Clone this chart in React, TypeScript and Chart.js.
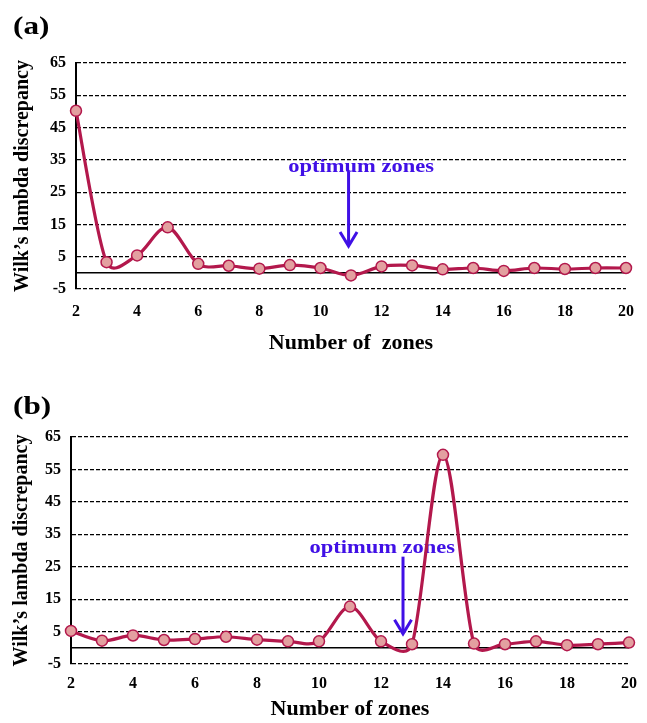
import React, { useEffect, useRef } from "react";
import { Chart, registerables } from "chart.js";

Chart.register(...registerables);

// ---------- data ----------
const zones = [2, 3, 4, 5, 6, 7, 8, 9, 10, 11, 12, 13, 14, 15, 16, 17, 18, 19, 20];
const xTickValues = [2, 4, 6, 8, 10, 12, 14, 16, 18, 20];
const yTickValues = [-5, 5, 15, 25, 35, 45, 55, 65];
const discrepancyA = [50.2, 3.3, 5.4, 14.1, 2.8, 2.2, 1.3, 2.4, 1.5, -0.8, 2.0, 2.3, 1.1, 1.5, 0.6, 1.5, 1.2, 1.5, 1.5];
const discrepancyB = [5.2, 2.2, 3.8, 2.4, 2.7, 3.4, 2.5, 2.0, 2.0, 12.7, 2.0, 1.1, 59.5, 1.3, 1.1, 2.0, 0.8, 1.1, 1.6];
const zeroLineX = [2, 20];
const zeroLineY = [0, 0];
const panelLabels = ["(a)", "(b)"];
const xTitles = ["Number of  zones", "Number of zones"];
const yTitle = "Wilk\u2019s lambda discrepancy";
const annotationText = "optimum zones";
// annotation anchors in data units: [arrowX, arrowTopY, arrowTipY, textCenterX, textCenterY]
const optimumA = [10.92, 31.3, 8.0, 11.33, 32.8];
const optimumB = [12.71, 28.1, 4.0, 12.04, 30.8];

const SERIF = '"Liberation Serif", "Times New Roman", serif';
const LINE_COLOR = "#b3184c";
const POINT_FILL = "#e3a0a0";
const ANNOT_COLOR = "#4010e6";

type Layout = {
  height: number;
  padTop: number;
  padRight: number;
  yWidth: number;
  xHeight: number;
  tickPad: number;
  yTitlePad: number;
  xTitlePad: number;
};

// Spreadsheet-style smoothing: tangent (next - prev) / 6, each arm capped at half its segment
const smoothingPlugin = {
  id: "spreadsheetSmoothing",
  beforeDatasetDraw(chart: any, args: any) {
    if (args.index !== 0) return;
    const meta = args.meta;
    const line = meta.dataset;
    const pts = meta.data;
    if (line && typeof line.updateControlPoints === "function") {
      line.updateControlPoints(chart.chartArea, "x");
    }
    const n = pts.length;
    const f = 1 / 6;
    for (let i = 0; i < n; i++) {
      const p = pts[i];
      const prev = pts[Math.max(0, i - 1)];
      const next = pts[Math.min(n - 1, i + 1)];
      const tx = (next.x - prev.x) * f;
      const ty = (next.y - prev.y) * f;
      const len = Math.hypot(tx, ty);
      const dPrev = Math.hypot(p.x - prev.x, p.y - prev.y);
      const dNext = Math.hypot(next.x - p.x, next.y - p.y);
      const kIn = len > 0 ? Math.min(1, dPrev / 2 / len) : 0;
      const kOut = len > 0 ? Math.min(1, dNext / 2 / len) : 0;
      p.cp1x = p.x - tx * kIn;
      p.cp1y = p.y - ty * kIn;
      p.cp2x = p.x + tx * kOut;
      p.cp2y = p.y + ty * kOut;
    }
    if (line) line._path = undefined;
  },
};

function makeAnnotationPlugin(anchor: number[]) {
  return {
    id: "optimumAnnotation",
    beforeDatasetsDraw(chart: any) {
      const { ctx, scales } = chart;
      const xs = scales.x;
      const ys = scales.y;
      const ax = xs.getPixelForValue(anchor[0]);
      const aTop = ys.getPixelForValue(anchor[1]);
      const aTip = ys.getPixelForValue(anchor[2]);
      const tx = xs.getPixelForValue(anchor[3]);
      const ty = ys.getPixelForValue(anchor[4]);
      ctx.save();
      ctx.fillStyle = ANNOT_COLOR;
      ctx.font = `bold 18px ${SERIF}`;
      ctx.textAlign = "center";
      ctx.textBaseline = "middle";
      ctx.translate(tx, ty);
      ctx.scale(1.25, 1);
      ctx.fillText(annotationText, 0, 0);
      ctx.setTransform(1, 0, 0, 1, 0, 0);
      ctx.strokeStyle = ANNOT_COLOR;
      ctx.lineWidth = 3;
      ctx.beginPath();
      ctx.moveTo(ax, aTop);
      ctx.lineTo(ax, aTip - 2);
      ctx.stroke();
      ctx.beginPath();
      ctx.lineJoin = "miter";
      ctx.moveTo(ax - 8.5, aTip - 15);
      ctx.lineTo(ax, aTip - 1);
      ctx.lineTo(ax + 8.5, aTip - 15);
      ctx.stroke();
      ctx.restore();
    },
  };
}

function Panel({ values, xTitle, anchor, layout, top }: { values: number[]; xTitle: string; anchor: number[]; layout: Layout; top: number }) {
  const ref = useRef<HTMLCanvasElement>(null);
  useEffect(() => {
    if (!ref.current) return;
    const chart = new Chart(ref.current, {
      type: "line",
      data: {
        datasets: [
          {
            data: zones.map((z, i) => ({ x: z, y: values[i] })),
            borderColor: LINE_COLOR,
            borderWidth: 3.2,
            tension: 0.4,
            pointRadius: 5.5,
            pointBorderWidth: 1.5,
            pointBackgroundColor: POINT_FILL,
            pointBorderColor: LINE_COLOR,
            clip: false as any,
            order: 1,
          },
          {
            data: zeroLineX.map((x, i) => ({ x, y: zeroLineY[i] })),
            borderColor: "#000",
            borderWidth: 1.5,
            pointRadius: 0,
            tension: 0,
            order: 2,
          },
        ],
      },
      options: {
        animation: false,
        responsive: false,
        devicePixelRatio: 1,
        events: [],
        layout: { padding: { top: layout.padTop, right: layout.padRight, left: 0, bottom: 0 } },
        plugins: { legend: { display: false }, tooltip: { enabled: false } },
        scales: {
          x: {
            type: "linear",
            min: 2,
            max: 20,
            afterBuildTicks: (axis: any) => {
              axis.ticks = xTickValues.map((v) => ({ value: v }));
            },
            afterFit: (axis: any) => {
              axis.height = layout.xHeight;
            },
            grid: { display: false, drawTicks: false },
            border: { display: false },
            ticks: {
              color: "#000",
              padding: layout.tickPad,
              font: { family: SERIF, size: 16, weight: "bold" },
              maxRotation: 0,
            },
            title: {
              display: true,
              text: xTitle,
              color: "#000",
              font: { family: SERIF, size: 22, weight: "bold" },
              padding: { top: 0, bottom: layout.xTitlePad },
            },
          },
          y: {
            type: "linear",
            min: -5,
            max: 65,
            afterBuildTicks: (axis: any) => {
              axis.ticks = yTickValues.map((v) => ({ value: v }));
            },
            afterFit: (axis: any) => {
              axis.width = layout.yWidth;
            },
            grid: { color: "#000", lineWidth: 1.2, drawTicks: false },
            border: { display: true, color: "#000", width: 2, dash: [4, 2] },
            ticks: {
              color: "#000",
              padding: 10,
              font: { family: SERIF, size: 16, weight: "bold" },
            },
            title: {
              display: true,
              text: yTitle,
              color: "#000",
              font: { family: SERIF, size: 20, weight: "bold" },
              padding: { top: layout.yTitlePad, bottom: 0 },
            },
          },
        },
      },
      plugins: [makeAnnotationPlugin(anchor), smoothingPlugin],
    } as any);
    return () => chart.destroy();
  }, []);
  return (
    <canvas
      ref={ref}
      width={647}
      height={layout.height}
      style={{ position: "absolute", left: 0, top, width: 647, height: layout.height }}
    />
  );
}

const labelStyle: React.CSSProperties = {
  position: "absolute",
  left: 13,
  fontFamily: SERIF,
  fontWeight: "bold",
  fontSize: 26,
  lineHeight: 1,
  color: "#000",
  transform: "scaleX(1.2)",
  transformOrigin: "left top",
  whiteSpace: "nowrap",
};

export default function App() {
  const layoutA: Layout = { height: 360, padTop: 63, padRight: 14, yWidth: 76, xHeight: 71, tickPad: 13, yTitlePad: 11, xTitlePad: 3 };
  const layoutB: Layout = { height: 363, padTop: 77, padRight: 13, yWidth: 71, xHeight: 59, tickPad: 10, yTitlePad: 10, xTitlePad: 0 };
  return (
    <div style={{ position: "fixed", left: 0, top: 0, width: 647, height: 723, background: "#fff", overflow: "hidden" }}>
      <Panel values={discrepancyA} xTitle={xTitles[0]} anchor={optimumA} layout={layoutA} top={0} />
      <Panel values={discrepancyB} xTitle={xTitles[1]} anchor={optimumB} layout={layoutB} top={360} />
      <div style={{ ...labelStyle, top: 13 }}>{panelLabels[0]}</div>
      <div style={{ ...labelStyle, top: 393 }}>{panelLabels[1]}</div>
    </div>
  );
}
